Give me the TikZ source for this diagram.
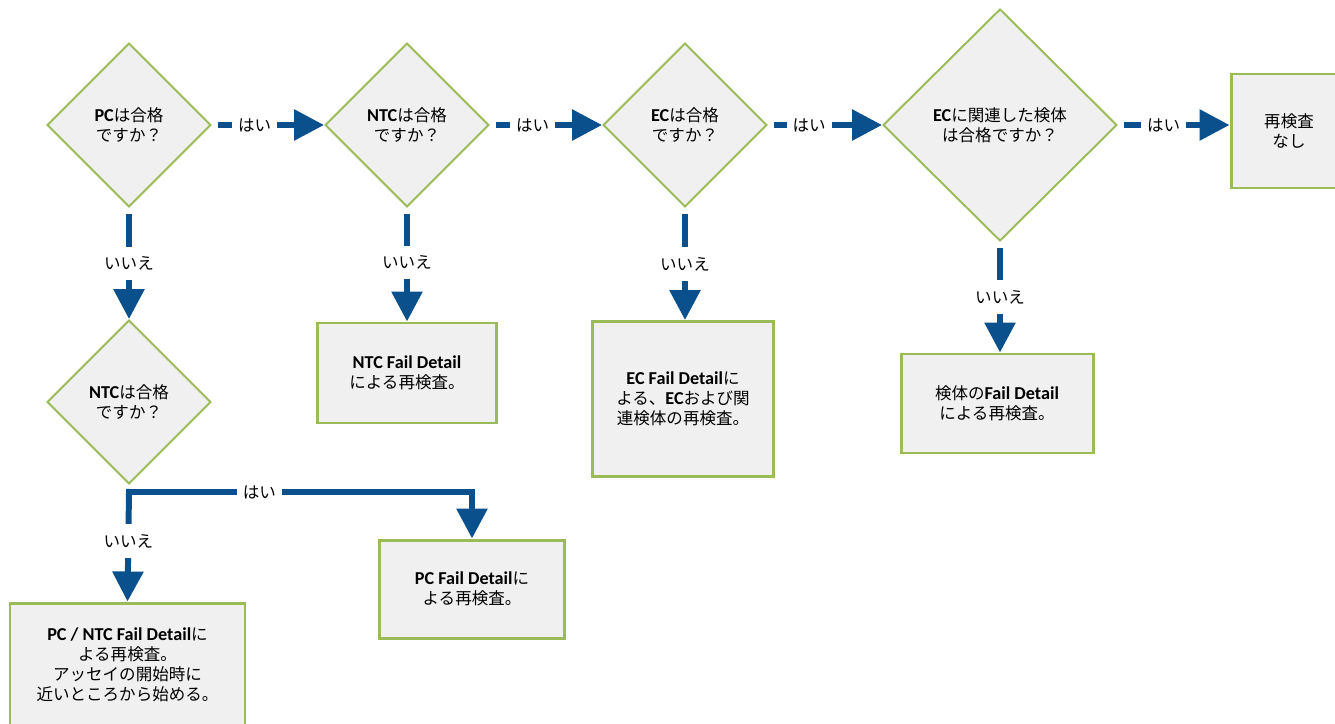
\documentclass[tikz,border=0pt]{standalone}
\usepackage{fontspec}
\setmainfont{Noto Sans CJK JP}
\newfontfamily\latinbold{Carlito}[Scale=1.1]
\newcommand{\en}[1]{{\latinbold\bfseries #1}}
\usetikzlibrary{shapes.geometric,arrows.meta}

\definecolor{flowblue}{RGB}{10,80,140}
\definecolor{edgegreen}{RGB}{155,187,89}
\definecolor{boxgray}{RGB}{240,240,240}

\begin{document}
\begin{tikzpicture}[
  flow/.style={-{Triangle[length=6mm,width=6mm]}, draw=flowblue, line width=3.4pt, shorten <=1.2mm},
  lbl/.style={fill=white, inner xsep=1.2mm, inner ysep=2mm, font=\fontsize{9.4}{11.3}\selectfont},
  test/.style={diamond, draw=edgegreen, fill=boxgray, line width=1.1pt, inner sep=0pt,
    minimum width=3.28cm, minimum height=3.28cm, align=center, font=\fontsize{9.4}{11.3}\selectfont},
  result/.style={rectangle, draw=edgegreen, fill=boxgray, line width=1.7pt, inner sep=0pt,
    align=center, font=\fontsize{9.4}{11.3}\selectfont},
]
\useasboundingbox (0,0) rectangle (26.70,-14.46);

% === QUESTIONS ===
\node[test] (pcq) at (2.58,-2.50) {\en{PC}は合格\\ですか？};
\node[test] (ntcq) at (8.14,-2.50) {\en{NTC}は合格\\ですか？};
\node[test] (ecq) at (13.70,-2.50) {\en{EC}は合格\\ですか？};
\node[test, minimum width=4.68cm, minimum height=4.64cm] (specq) at (20.00,-2.50) {\en{EC}に関連した検体\\は合格ですか？};
\node[test] (ntcq2) at (2.58,-8.04) {\en{NTC}は合格\\ですか？};

% === RESULTS ===
\node[result, minimum width=2.32cm, minimum height=2.28cm] (noretest) at (25.78,-2.62) {再検査\\なし};
\node[result, minimum width=3.58cm, minimum height=2.00cm] (ntcbox) at (8.14,-7.46) {\en{NTC Fail Detail}\\による再検査。};
\node[result, minimum width=3.62cm, minimum height=3.10cm] (ecbox) at (13.66,-7.98) {\en{EC Fail Detail}に\\よる、\en{EC}および関\\連検体の再検査。};
\node[result, minimum width=3.84cm, minimum height=1.98cm] (specbox) at (19.94,-8.07) {検体の\en{Fail Detail}\\による再検査。};
\node[result, minimum width=3.70cm, minimum height=1.96cm] (pcbox) at (9.44,-11.78) {\en{PC Fail Detail}に\\よる再検査。};
\node[result, minimum width=4.70cm, minimum height=2.48cm] (pcntcbox) at (2.55,-13.30) {\en{PC / NTC Fail Detail}に\\よる再検査。\\アッセイの開始時に\\近いところから始める。};

% === YES PATH ===
\draw[flow] (pcq.east) -- (ntcq.west) node[lbl, pos=0.38] {はい};
\draw[flow] (ntcq.east) -- (ecq.west) node[lbl, pos=0.38] {はい};
\draw[flow] (ecq.east) -- (specq.west) node[lbl, pos=0.36] {はい};
\draw[flow] (specq.east) -- (specq.east -| noretest.west) node[lbl, pos=0.41] {はい};

% === NO PATH ===
\draw[flow] (pcq.south) -- (ntcq2.north) node[lbl, pos=0.5] {いいえ};
\draw[flow] (ntcq.south) -- (ntcbox.north) node[lbl, pos=0.48] {いいえ};
\draw[flow] (ecq.south) -- (ecq.south |- ecbox.north) node[lbl, pos=0.5] {いいえ};
\draw[flow] (specq.south) -- (specq.south |- specbox.north) node[lbl, pos=0.5] {いいえ};

\coordinate (split) at ([yshift=-0.14cm]ntcq2.south);
\draw[flow, shorten <=0pt, line cap=rect] (split) -| (pcbox.north) node[lbl, pos=0.19] {はい};
\draw[flow, shorten <=0pt, line cap=rect] (split) -- (pcntcbox.north) node[lbl, pos=0.45] {いいえ};
\end{tikzpicture}
\end{document}
